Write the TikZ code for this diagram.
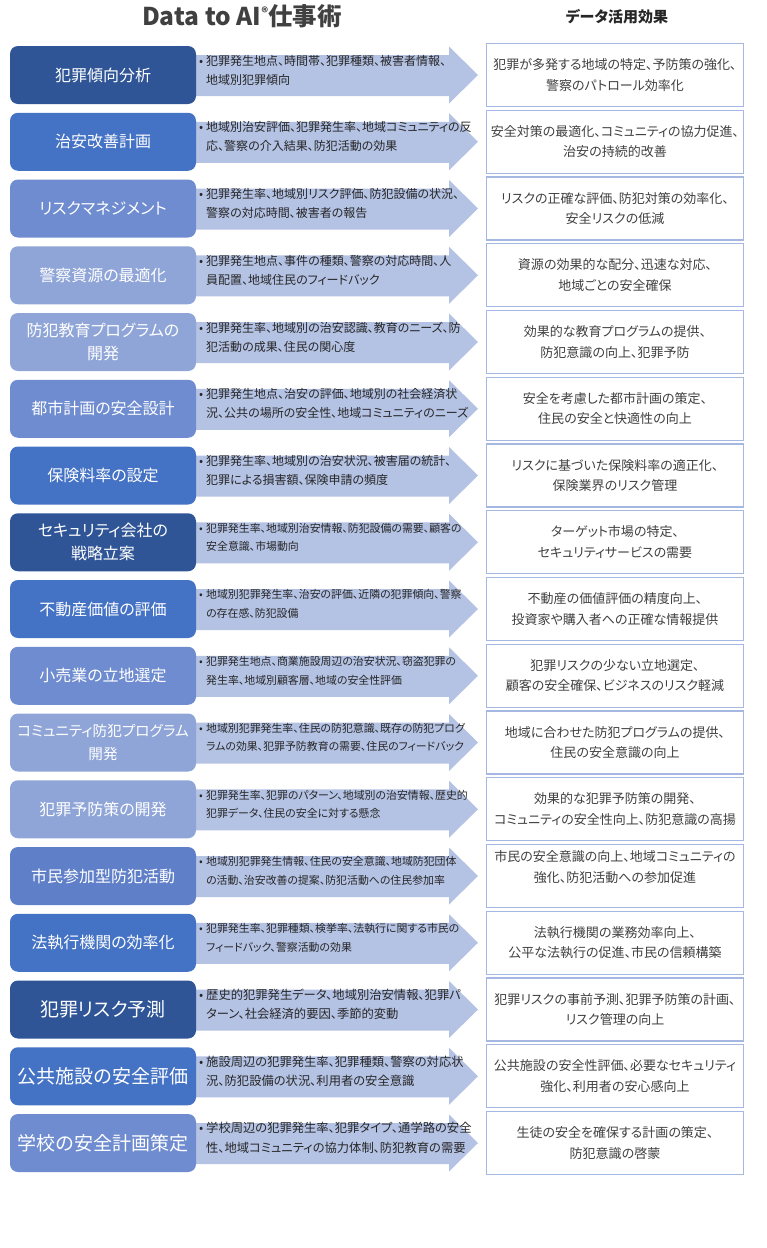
\documentclass[tikz,border=0pt]{standalone}
\usepackage{fontspec}
\setmainfont{Noto Sans CJK JP}[RawFeature=+palt]
\definecolor{cDark}{HTML}{2F5597}
\definecolor{cMed}{HTML}{4472C4}
\definecolor{cLM}{HTML}{5F7FC9}
\definecolor{cLight}{HTML}{6E8CCF}
\definecolor{cPale}{HTML}{8FA5D7}
\definecolor{cArrow}{HTML}{B4C2E4}
\definecolor{cBorder}{HTML}{A4B8E2}
\definecolor{cTxt}{HTML}{262626}
\definecolor{cRTxt}{HTML}{404040}
\tikzset{
 leftbox/.style={rounded corners=8pt, minimum width=186pt, minimum height=58pt, inner sep=2pt, text=white, align=center},
 lfN/.style={font=\fontsize{16}{23}\selectfont},
 lfC/.style={font=\fontsize{14.6}{23}\selectfont},
 lfL/.style={font=\fontsize{19}{24}\selectfont},
 arrowtext/.style={anchor=west, align=left, inner sep=0pt, text=cTxt},
 afN/.style={font=\fontsize{12}{19}\selectfont},
 afS/.style={font=\fontsize{10.9}{18.5}\selectfont},
 afL/.style={font=\fontsize{12.3}{19.5}\selectfont},
 rightbox/.style={draw=cBorder, line width=1.3pt, fill=white, minimum width=257pt, minimum height=63pt},
 righttext/.style={align=center, text=cRTxt, inner sep=0pt, font=\fontsize{13}{20.5}\selectfont},
}
\newcommand\Row[9]{%
 \pgfmathsetmacro\cy{75+66.75*(#1-1)}%
 \fill[cArrow] (190,\cy-20) -- (449,\cy-20) -- (449,\cy-28.5) -- (478,\cy) -- (449,\cy+28.5) -- (449,\cy+21) -- (190,\cy+21) -- cycle;
 \node[leftbox, fill=#2, #3] (L#1) at (103,\cy) {#4};
 \node[arrowtext, #5] (A#1) at (199,\cy-5) {\makebox[7pt][l]{•}#6\\\hspace*{7pt}#7};
 \node[rightbox] (R#1) at (615,\cy) {};
 \node[righttext] (T#1) at ([yshift=#9]R#1.center) {#8};
}
\begin{document}
\begin{tikzpicture}[x=1pt,y=-1pt]
\path[use as bounding box] (0,0) rectangle (767,1248);
\fill[white] (0,0) rectangle (767,1248);
\node[font=\fontsize{24.5}{28}\selectfont\bfseries, text=cRTxt] (title) at (242,16) {Data to AI\raisebox{0.55ex}{\fontsize{13}{13}\selectfont ®}仕事術};
\node[font=\fontsize{15}{18}\selectfont\bfseries, text=cTxt] (head) at (617,17) {データ活用効果};
\Row{1}{cDark}{lfN}{犯罪傾向分析}{afN}{犯罪発生地点、時間帯、犯罪種類、被害者情報、}{地域別犯罪傾向}{犯罪が多発する地域の特定、予防策の強化、\\警察のパトロール効率化}{0pt}
\Row{2}{cMed}{lfN}{治安改善計画}{afN}{地域別治安評価、犯罪発生率、地域コミュニティの反}{応、警察の介入結果、防犯活動の効果}{安全対策の最適化、コミュニティの協力促進、\\治安の持続的改善}{0pt}
\Row{3}{cLight}{lfN}{リスクマネジメント}{afN}{犯罪発生率、地域別リスク評価、防犯設備の状況、}{警察の対応時間、被害者の報告}{リスクの正確な評価、防犯対策の効率化、\\安全リスクの低減}{0pt}
\Row{4}{cPale}{lfN}{警察資源の最適化}{afN}{犯罪発生地点、事件の種類、警察の対応時間、人}{員配置、地域住民のフィードバック}{資源の効果的な配分、迅速な対応、\\地域ごとの安全確保}{0pt}
\Row{5}{cPale}{lfN}{防犯教育プログラムの\\開発}{afN}{犯罪発生率、地域別の治安認識、教育のニーズ、防}{犯活動の成果、住民の関心度}{効果的な教育プログラムの提供、\\防犯意識の向上、犯罪予防}{0pt}
\Row{6}{cLight}{lfN}{都市計画の安全設計}{afN}{犯罪発生地点、治安の評価、地域別の社会経済状}{況、公共の場所の安全性、地域コミュニティのニーズ}{安全を考慮した都市計画の策定、\\住民の安全と快適性の向上}{0pt}
\Row{7}{cMed}{lfN}{保険料率の設定}{afN}{犯罪発生率、地域別の治安状況、被害届の統計、}{犯罪による損害額、保険申請の頻度}{リスクに基づいた保険料率の適正化、\\保険業界のリスク管理}{0pt}
\Row{8}{cDark}{lfN}{セキュリティ会社の\\戦略立案}{afS}{犯罪発生率、地域別治安情報、防犯設備の需要、顧客の}{安全意識、市場動向}{ターゲット市場の特定、\\セキュリティサービスの需要}{0pt}
\Row{9}{cMed}{lfN}{不動産価値の評価}{afS}{地域別犯罪発生率、治安の評価、近隣の犯罪傾向、警察}{の存在感、防犯設備}{不動産の価値評価の精度向上、\\投資家や購入者への正確な情報提供}{0pt}
\Row{10}{cLight}{lfN}{小売業の立地選定}{afS}{犯罪発生地点、商業施設周辺の治安状況、窃盗犯罪の}{発生率、地域別顧客層、地域の安全性評価}{犯罪リスクの少ない立地選定、\\顧客の安全確保、ビジネスのリスク軽減}{0pt}
\Row{11}{cPale}{lfC}{コミュニティ防犯プログラム\\開発}{afS}{地域別犯罪発生率、住民の防犯意識、既存の防犯プログ}{ラムの効果、犯罪予防教育の需要、住民のフィードバック}{地域に合わせた防犯プログラムの提供、\\住民の安全意識の向上}{0pt}
\Row{12}{cPale}{lfN}{犯罪予防策の開発}{afS}{犯罪発生率、犯罪のパターン、地域別の治安情報、歴史的}{犯罪データ、住民の安全に対する懸念}{効果的な犯罪予防策の開発、\\コミュニティの安全性向上、防犯意識の高揚}{0pt}
\Row{13}{cLM}{lfN}{市民参加型防犯活動}{afS}{地域別犯罪発生情報、住民の安全意識、地域防犯団体}{の活動、治安改善の提案、防犯活動への住民参加率}{市民の安全意識の向上、地域コミュニティの\\強化、防犯活動への参加促進}{9pt}
\Row{14}{cMed}{lfN}{法執行機関の効率化}{afS}{犯罪発生率、犯罪種類、検挙率、法執行に関する市民の}{フィードバック、警察活動の効果}{法執行機関の業務効率向上、\\公平な法執行の促進、市民の信頼構築}{0pt}
\Row{15}{cDark}{lfL}{犯罪リスク予測}{afL}{歴史的犯罪発生データ、地域別治安情報、犯罪パ}{ターン、社会経済的要因、季節的変動}{犯罪リスクの事前予測、犯罪予防策の計画、\\リスク管理の向上}{0pt}
\Row{16}{cMed}{lfL}{公共施設の安全評価}{afL}{施設周辺の犯罪発生率、犯罪種類、警察の対応状}{況、防犯設備の状況、利用者の安全意識}{公共施設の安全性評価、必要なセキュリティ\\強化、利用者の安心感向上}{0pt}
\Row{17}{cLight}{lfL}{学校の安全計画策定}{afL}{学校周辺の犯罪発生率、犯罪タイプ、通学路の安全}{性、地域コミュニティの協力体制、防犯教育の需要}{生徒の安全を確保する計画の策定、\\防犯意識の啓蒙}{0pt}
\end{tikzpicture}
\end{document}
